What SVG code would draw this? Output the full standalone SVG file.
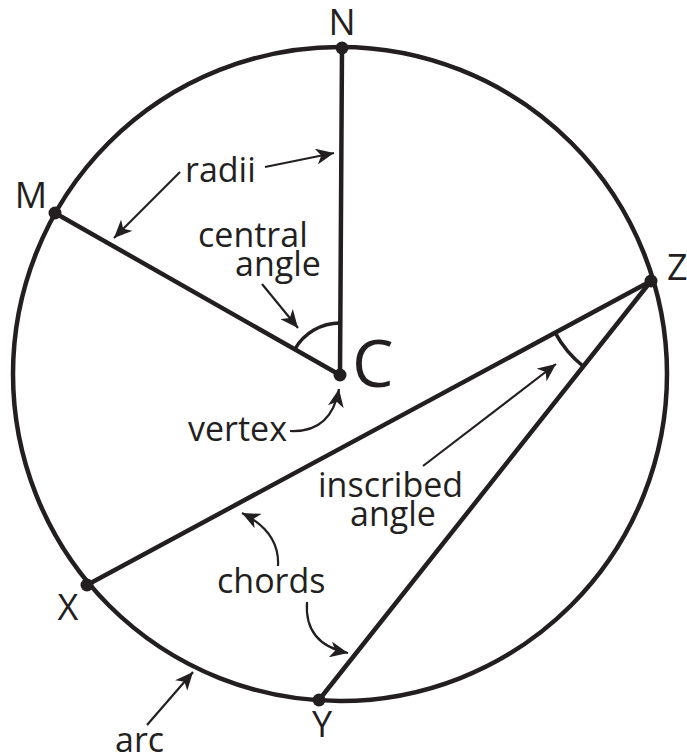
<svg xmlns="http://www.w3.org/2000/svg" width="687" height="756" viewBox="0 0 687 756">
<defs>
<style>
.bg{fill:#ffffff}
.circ{fill:none;stroke:#231f20;stroke-width:4.5}
.seg{fill:none;stroke:#231f20;stroke-width:4.5;stroke-linecap:round}
.ang{fill:none;stroke:#231f20;stroke-width:3.5}
.arr{fill:none;stroke:#231f20;stroke-width:2.2;marker-end:url(#ah)}
.dot{fill:#231f20}
.lbl{font-family:"Open Sans","Noto Sans","Liberation Sans",sans-serif;font-size:36px;fill:#231f20}
.txt{font-family:"Open Sans","Noto Sans","Liberation Sans",sans-serif;font-size:34px;fill:#231f20}
.big{font-family:"Open Sans","Noto Sans","Liberation Sans",sans-serif;font-size:66px;fill:#231f20}
</style>
<marker id="ah" markerUnits="userSpaceOnUse" markerWidth="20" markerHeight="16" viewBox="0 0 20 16" refX="18" refY="8" orient="auto">
<path d="M0,0 L18,8 L0,16 L5,8 Z" fill="#231f20"/>
</marker>
</defs>
<rect class="bg" x="0" y="0" width="687" height="756"/>
<g id="connectors">
<circle class="circ" cx="340" cy="374" r="327"/>
<line class="seg" x1="340" y1="375" x2="342" y2="48"/>
<line class="seg" x1="340" y1="375" x2="55" y2="213"/>
<line class="seg" x1="651" y1="281" x2="87" y2="585"/>
<line class="seg" x1="651" y1="281" x2="319" y2="700"/>
<path class="ang" d="M294.8,349.3 A52,52 0 0 1 340,323"/>
<path class="ang" d="M555.1,332.7 A109,109 0 0 0 583.3,366.4"/>
<path class="arr" d="M265,167 L334,153"/>
<path class="arr" d="M180,172 L114,238"/>
<path class="arr" d="M262,284 L298,328"/>
<path class="arr" d="M290,431 Q331,433 339,389"/>
<path class="arr" d="M423,466 L556,364"/>
<path class="arr" d="M278,566 Q280,532 242,513"/>
<path class="arr" d="M307,602 Q304,644 348,653"/>
<path class="arr" d="M147,725 L193,672"/>
</g>
<g id="node-N"><circle class="dot" cx="342" cy="48" r="6.5"/><text class="lbl" x="342" y="35" text-anchor="middle">N</text></g>
<g id="node-M"><circle class="dot" cx="55" cy="213" r="6.5"/><text class="lbl" x="31" y="208" text-anchor="middle">M</text></g>
<g id="node-Z"><circle class="dot" cx="651" cy="281" r="6.5"/><text class="lbl" x="667" y="280">Z</text></g>
<g id="node-X"><circle class="dot" cx="87" cy="585" r="6.5"/><text class="lbl" x="68" y="620" text-anchor="middle">X</text></g>
<g id="node-Y"><circle class="dot" cx="319" cy="700" r="6.5"/><text class="lbl" x="322" y="737" text-anchor="middle">Y</text></g>
<g id="node-C"><circle class="dot" cx="340" cy="375" r="6.5"/><text class="big" x="352" y="387">C</text></g>
<g id="labels">
<text class="txt" x="185" y="182">radii</text>
<text class="txt" x="198" y="247">central</text>
<text class="txt" x="235" y="276">angle</text>
<text class="txt" x="287" y="441" text-anchor="end">vertex</text>
<text class="txt" x="318" y="497">inscribed</text>
<text class="txt" x="350" y="526">angle</text>
<text class="txt" x="217" y="593">chords</text>
<text class="txt" x="115" y="752">arc</text>
</g>
</svg>
